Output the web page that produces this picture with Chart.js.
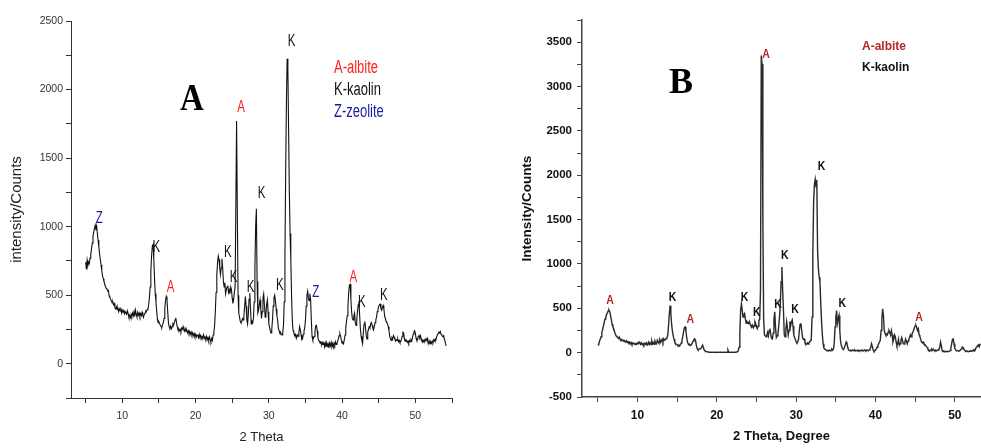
<!DOCTYPE html>
<html>
<head>
<meta charset="utf-8">
<title>XRD patterns A and B</title>
<script src="https://cdn.jsdelivr.net/npm/chart.js@4.4.1/dist/chart.umd.min.js"></script>
<style>
    html, body { margin: 0; padding: 0; background: #fff; }
    #wrap { position: relative; width: 981px; height: 448px; overflow: hidden; }
    canvas { position: absolute; top: 0; }
    #chartA { left: 0; }
    #chartB { left: 510px; }
</style>
</head>
<body>
<div id="wrap">
    <canvas id="chartA" width="470" height="448"></canvas>
    <canvas id="chartB" width="471" height="448"></canvas>
</div>
<script>
// 2-theta grid of the scans (degrees)
const theta = [
    5.0,5.1,5.2,5.3,5.4,5.5,5.6,5.7,5.8,5.9,
    6.0,6.1,6.2,6.3,6.4,6.5,6.6,6.7,6.8,6.9,
    7.0,7.1,7.2,7.3,7.4,7.5,7.6,7.7,7.8,7.9,
    8.0,8.1,8.2,8.3,8.4,8.5,8.6,8.7,8.8,8.9,
    9.0,9.1,9.2,9.3,9.4,9.5,9.6,9.7,9.8,9.9,
    10.0,10.1,10.2,10.3,10.4,10.5,10.6,10.7,10.8,10.9,
    11.0,11.1,11.2,11.3,11.4,11.5,11.6,11.7,11.8,11.9,
    12.0,12.1,12.2,12.3,12.4,12.5,12.6,12.7,12.8,12.9,
    13.0,13.1,13.2,13.3,13.4,13.5,13.6,13.7,13.8,13.9,
    14.0,14.1,14.2,14.3,14.4,14.5,14.6,14.7,14.8,14.9,
    15.0,15.1,15.2,15.3,15.4,15.5,15.6,15.7,15.8,15.9,
    16.0,16.1,16.2,16.3,16.4,16.5,16.6,16.7,16.8,16.9,
    17.0,17.1,17.2,17.3,17.4,17.5,17.6,17.7,17.8,17.9,
    18.0,18.1,18.2,18.3,18.4,18.5,18.6,18.7,18.8,18.9,
    19.0,19.1,19.2,19.3,19.4,19.5,19.6,19.7,19.8,19.9,
    20.0,20.1,20.2,20.3,20.4,20.5,20.6,20.7,20.8,20.9,
    21.0,21.1,21.2,21.3,21.4,21.5,21.6,21.7,21.8,21.9,
    22.0,22.1,22.2,22.3,22.4,22.5,22.6,22.7,22.8,22.9,
    23.0,23.1,23.2,23.3,23.4,23.5,23.6,23.7,23.8,23.9,
    24.0,24.1,24.2,24.3,24.4,24.5,24.6,24.7,24.8,24.9,
    25.0,25.1,25.2,25.3,25.4,25.5,25.6,25.7,25.8,25.9,
    26.0,26.1,26.2,26.3,26.4,26.5,26.6,26.7,26.8,26.9,
    27.0,27.1,27.2,27.3,27.4,27.5,27.6,27.7,27.8,27.9,
    28.0,28.1,28.2,28.3,28.4,28.5,28.6,28.7,28.8,28.9,
    29.0,29.1,29.2,29.3,29.4,29.5,29.6,29.7,29.8,29.9,
    30.0,30.1,30.2,30.3,30.4,30.5,30.6,30.7,30.8,30.9,
    31.0,31.1,31.2,31.3,31.4,31.5,31.6,31.7,31.8,31.9,
    32.0,32.1,32.2,32.3,32.4,32.5,32.6,32.7,32.8,32.9,
    33.0,33.1,33.2,33.3,33.4,33.5,33.6,33.7,33.8,33.9,
    34.0,34.1,34.2,34.3,34.4,34.5,34.6,34.7,34.8,34.9,
    35.0,35.1,35.2,35.3,35.4,35.5,35.6,35.7,35.8,35.9,
    36.0,36.1,36.2,36.3,36.4,36.5,36.6,36.7,36.8,36.9,
    37.0,37.1,37.2,37.3,37.4,37.5,37.6,37.7,37.8,37.9,
    38.0,38.1,38.2,38.3,38.4,38.5,38.6,38.7,38.8,38.9,
    39.0,39.1,39.2,39.3,39.4,39.5,39.6,39.7,39.8,39.9,
    40.0,40.1,40.2,40.3,40.4,40.5,40.6,40.7,40.8,40.9,
    41.0,41.1,41.2,41.3,41.4,41.5,41.6,41.7,41.8,41.9,
    42.0,42.1,42.2,42.3,42.4,42.5,42.6,42.7,42.8,42.9,
    43.0,43.1,43.2,43.3,43.4,43.5,43.6,43.7,43.8,43.9,
    44.0,44.1,44.2,44.3,44.4,44.5,44.6,44.7,44.8,44.9,
    45.0,45.1,45.2,45.3,45.4,45.5,45.6,45.7,45.8,45.9,
    46.0,46.1,46.2,46.3,46.4,46.5,46.6,46.7,46.8,46.9,
    47.0,47.1,47.2,47.3,47.4,47.5,47.6,47.7,47.8,47.9,
    48.0,48.1,48.2,48.3,48.4,48.5,48.6,48.7,48.8,48.9,
    49.0,49.1,49.2,49.3,49.4,49.5,49.6,49.7,49.8,49.9,
    50.0,50.1,50.2,50.3,50.4,50.5,50.6,50.7,50.8,50.9,
    51.0,51.1,51.2,51.3,51.4,51.5,51.6,51.7,51.8,51.9,
    52.0,52.1,52.2,52.3,52.4,52.5,52.6,52.7,52.8,52.9,
    53.0,53.1,53.2,53.3,53.4,53.5,53.6,53.7,53.8,53.9,
    54.0,54.1,54.2
];

// panel A intensities (counts), one row per degree
const countsA = [
    740,690,755,715,740,730,770,800,840,880,
    930,960,990,1010,975,1005,950,900,850,800,
    760,720,680,640,620,600,580,565,550,545,
    530,535,495,485,470,460,445,450,430,440,
    410,400,415,395,405,380,400,385,410,370,
    390,375,395,365,380,370,360,385,365,340,
    350,335,360,345,370,350,380,345,390,360,
    340,375,355,370,345,365,350,375,355,340,
    360,370,385,380,395,400,430,480,560,680,
    790,860,870,760,620,510,450,380,320,300,
    305,290,280,270,265,285,300,330,400,460,
    490,470,380,300,270,260,275,255,270,290,
    280,300,320,335,300,270,250,255,240,250,
    235,260,250,270,250,240,255,235,245,225,
    240,220,235,215,230,210,225,205,220,200,
    215,195,210,205,190,215,195,205,185,200,
    190,210,185,195,180,200,175,190,170,195,
    175,160,185,170,210,230,280,380,520,650,
    740,785,760,700,650,700,765,700,600,560,
    590,510,540,560,570,520,540,510,560,540,
    480,440,470,520,560,560,1770,1100,500,370,
    340,310,300,305,330,320,350,420,490,420,
    320,290,360,470,515,400,290,310,300,330,
    450,700,1000,1130,600,370,390,430,465,400,
    330,380,480,510,430,340,360,430,465,380,
    290,265,240,225,250,320,420,480,500,460,
    400,350,320,260,240,225,230,215,210,230,
    280,450,800,1400,1900,2225,2150,1700,1250,950,
    760,500,320,245,230,205,215,195,190,210,
    200,230,270,245,210,175,180,215,240,260,
    320,420,500,530,480,460,510,470,320,200,
    175,185,200,240,275,280,240,190,170,165,
    150,165,135,155,140,160,125,150,120,155,
    130,145,115,150,130,155,125,145,120,150,
    135,160,140,150,165,185,205,220,200,170,
    150,155,145,175,210,260,310,350,420,520,
    575,580,470,380,330,320,350,370,300,280,
    320,380,430,455,350,250,200,170,145,230,
    290,310,260,200,180,230,250,270,260,290,
    300,280,260,250,270,300,320,340,380,400,
    420,430,435,400,390,410,425,400,350,330,
    310,300,290,270,240,200,180,170,190,180,
    205,195,180,165,175,170,180,160,170,155,
    160,180,200,230,225,180,165,175,170,155,
    165,150,170,160,175,165,190,215,230,240,
    220,185,170,175,200,205,190,205,180,165,
    170,160,175,165,180,170,185,160,150,165,
    145,160,150,165,155,175,165,180,175,195,
    210,220,230,225,235,215,210,200,205,190,
    175,150,130
];

// panel B intensities (counts), one row per degree, scan ends at 53.2
const countsB = [
    100,90,130,150,180,230,260,300,340,380,
    400,430,450,470,480,460,420,370,320,290,
    270,240,210,190,180,170,160,175,150,140,
    150,135,140,125,130,120,135,115,125,110,
    120,100,115,95,110,100,105,90,100,95,
    110,100,120,105,95,110,90,100,85,105,
    95,110,85,100,120,95,110,90,130,100,
    115,95,130,110,100,140,120,105,150,115,
    130,150,120,155,140,145,160,170,190,290,
    430,530,440,320,240,190,150,120,100,95,
    90,80,85,75,90,110,140,180,230,280,
    290,250,170,120,95,85,90,80,90,110,
    130,150,155,145,90,50,35,30,40,45,
    50,65,85,60,30,20,15,12,10,8,
    5,5,4,5,3,5,4,3,5,4,
    3,4,5,3,4,5,3,4,3,5,
    4,3,5,4,30,5,4,3,4,5,
    3,5,4,6,5,8,10,20,60,220,
    480,550,480,400,420,440,380,330,350,340,
    330,350,320,300,290,310,280,300,350,330,
    290,270,300,365,370,700,3350,3250,1500,380,
    200,190,180,200,230,190,250,270,200,160,
    155,220,380,460,280,170,190,210,300,400,
    550,800,965,700,470,200,180,260,350,280,
    200,250,350,300,350,370,300,200,170,150,
    120,110,120,150,250,320,330,250,170,150,
    155,120,100,95,110,98,110,120,136,140,
    400,1100,1700,1900,1955,1870,1950,1150,950,850,
    800,550,350,200,100,50,40,35,25,20,
    25,20,30,20,25,40,30,40,110,290,
    400,475,330,380,420,250,120,80,50,40,
    40,60,90,120,100,60,30,25,20,25,
    20,30,25,20,30,20,25,20,30,20,
    25,20,30,20,25,20,30,25,20,30,
    25,20,30,40,60,100,70,30,15,20,
    30,40,60,80,100,120,136,250,380,494,
    420,250,220,200,210,200,230,250,230,200,
    250,200,120,150,200,180,120,80,100,150,
    83,100,130,170,140,100,98,120,155,130,
    100,130,155,170,200,180,210,230,250,280,
    300,305,280,250,270,200,180,150,120,110,
    120,100,90,83,70,60,40,30,20,30,
    20,40,30,40,25,20,30,20,25,30,
    40,60,120,80,20,15,20,10,15,10,
    10,15,10,15,25,50,100,150,155,100,
    50,30,20,25,20,15,20,30,40,60,
    60,50,30,20,15,20,15,10,15,20,
    20,15,25,20,30,20,40,60,70,83,
    90,70,100
];

// peak assignments: label centre in (2theta, counts)
const peakThetaA = [6.85, 14.65, 16.6, 24.4, 25.2, 26.2, 27.5, 29.0, 31.5, 33.1, 36.4, 41.55, 42.7, 45.7];
const peakCountsA = [1060, 848, 556, 811, 629, 1870, 558, 1240, 570, 2349, 521, 631, 448, 497];
const peakTextA = ['Z', 'K', 'A', 'K', 'K', 'A', 'K', 'K', 'K', 'K', 'Z', 'A', 'K', 'K'];

const peakThetaB = [6.55, 14.4, 16.65, 23.5, 25.05, 26.2, 27.7, 28.55, 29.85, 33.2, 35.8, 45.5];
const peakCountsB = [588, 626, 381, 619, 456, 3359, 551, 1097, 494, 2096, 562, 399];
const peakTextB = ['A', 'K', 'A', 'K', 'K', 'A', 'K', 'K', 'K', 'K', 'K', 'A'];

const legendA = ['A-albite', 'K-kaolin', 'Z-zeolite'];
const legendB = ['A-albite', 'K-kaolin'];

// axis ticks and the ones that carry a label
const xTicksA = [5, 10, 15, 20, 25, 30, 35, 40, 45, 50, 55];
const xTicksB = [5, 10, 15, 20, 25, 30, 35, 40, 45, 50];
const xLabels = [10, 20, 30, 40, 50];
const yTicksA = [-250, 0, 250, 500, 750, 1000, 1250, 1500, 1750, 2000, 2250, 2500];
const yLabelsA = [0, 500, 1000, 1500, 2000, 2500];
const yTicksB = [-500, -250, 0, 250, 500, 750, 1000, 1250, 1500, 1750, 2000, 2250, 2500, 2750, 3000, 3250, 3500, 3750];
const yLabelsB = [-500, 0, 500, 1000, 1500, 2000, 2500, 3000, 3500];

const SANS = "'Liberation Sans', Arial, sans-serif";
const SERIF = "'Liberation Serif', 'Times New Roman', serif";

function stretchText(ctx, text, x, y, sy) {
    ctx.save();
    ctx.translate(x, y);
    ctx.scale(1, sy);
    ctx.fillText(text, 0, 0);
    ctx.restore();
}

// peak letters, legend text and panel letter
const annotate = {
    id: 'annotate',
    afterDatasetsDraw(chart, args, o) {
        const { ctx } = chart;
        const xs = chart.scales.x;
        const ys = chart.scales.y;
        ctx.save();
        ctx.textBaseline = 'middle';

        ctx.textAlign = 'center';
        ctx.font = o.peakFont;
        o.peakText.forEach((t, i) => {
            ctx.fillStyle = o.colors[t];
            stretchText(ctx, t, xs.getPixelForValue(o.peakTheta[i]), ys.getPixelForValue(o.peakCounts[i]), o.peakStretch);
        });

        ctx.textAlign = 'left';
        ctx.font = o.legendFont;
        o.legendText.forEach((t, i) => {
            ctx.fillStyle = o.colors[t[0]];
            stretchText(ctx, t, o.legendX, o.legendY + i * o.legendGap, o.legendStretch);
        });

        ctx.textAlign = 'center';
        ctx.font = o.panelFont;
        ctx.fillStyle = '#000';
        stretchText(ctx, o.panel, o.panelX, o.panelY, o.panelStretch);
        ctx.restore();
    }
};

function toPoints(counts) {
    return counts.map((c, i) => ({ x: theta[i], y: c }));
}

new Chart(document.getElementById('chartA'), {
    type: 'line',
    data: {
        datasets: [{
            data: toPoints(countsA),
            borderColor: '#111',
            borderWidth: 1.1,
            pointRadius: 0,
            tension: 0
        }]
    },
    options: {
        responsive: false,
        animation: false,
        devicePixelRatio: 1,
        events: [],
        layout: { padding: { left: 0, right: 18, top: 21, bottom: 0 } },
        plugins: {
            legend: { display: false },
            tooltip: { enabled: false },
            annotate: {
                peakTheta: peakThetaA,
                peakCounts: peakCountsA,
                peakText: peakTextA,
                peakFont: '11.5px ' + SANS,
                peakStretch: 1.45,
                colors: { A: '#ff2020', K: '#111111', Z: '#1c1c9a' },
                legendText: legendA,
                legendFont: '13px ' + SANS,
                legendStretch: 1.35,
                legendX: 334,
                legendY: 68,
                legendGap: 22,
                panel: 'A',
                panelFont: 'bold 33px ' + SERIF,
                panelStretch: 1.15,
                panelX: 192,
                panelY: 100
            }
        },
        scales: {
            x: {
                type: 'linear',
                min: 3,
                max: 55,
                afterBuildTicks: s => { s.ticks = xTicksA.map(v => ({ value: v })); },
                afterFit: s => { s.height = 50; },
                grid: { drawOnChartArea: false, tickLength: 5, color: '#333' },
                border: { color: '#333', width: 1 },
                ticks: {
                    autoSkip: false,
                    maxRotation: 0,
                    padding: 7,
                    color: '#333',
                    font: { family: SANS, size: 10.5 },
                    callback: v => xLabels.includes(v) ? String(v) : ''
                },
                title: {
                    display: true,
                    text: '2 Theta',
                    color: '#222',
                    font: { family: SANS, size: 13 },
                    padding: { top: 0, bottom: 3 }
                }
            },
            y: {
                min: -250,
                max: 2500,
                afterBuildTicks: s => { s.ticks = yTicksA.map(v => ({ value: v })); },
                afterFit: s => { s.width = 71; },
                grid: { drawOnChartArea: false, tickLength: 5, color: '#333' },
                border: { color: '#333', width: 1 },
                ticks: {
                    autoSkip: false,
                    padding: 3,
                    color: '#333',
                    font: { family: SANS, size: 10.5 },
                    callback: v => yLabelsA.includes(v) ? String(v) : ''
                },
                title: {
                    display: true,
                    text: 'intensity/Counts',
                    color: '#222',
                    font: { family: SANS, size: 15 },
                    padding: { top: 8, bottom: 0 }
                }
            }
        }
    },
    plugins: [annotate]
});

new Chart(document.getElementById('chartB'), {
    type: 'line',
    data: {
        datasets: [{
            data: toPoints(countsB),
            borderColor: '#2a2a2a',
            borderWidth: 1.4,
            pointRadius: 0,
            tension: 0
        }]
    },
    options: {
        responsive: false,
        animation: false,
        devicePixelRatio: 1,
        events: [],
        layout: { padding: { left: 0, right: 0, top: 20, bottom: 0 } },
        plugins: {
            legend: { display: false },
            tooltip: { enabled: false },
            annotate: {
                peakTheta: peakThetaB,
                peakCounts: peakCountsB,
                peakText: peakTextB,
                peakFont: 'bold 10.5px ' + SANS,
                peakStretch: 1.3,
                colors: { A: '#b3262b', K: '#111111' },
                legendText: legendB,
                legendFont: 'bold 12px ' + SANS,
                legendStretch: 1.0,
                legendX: 352,
                legendY: 47,
                legendGap: 21,
                panel: 'B',
                panelFont: 'bold 36px ' + SERIF,
                panelStretch: 1.0,
                panelX: 171,
                panelY: 84
            }
        },
        scales: {
            x: {
                type: 'linear',
                min: 3,
                max: 53.3,
                afterBuildTicks: s => { s.ticks = xTicksB.map(v => ({ value: v })); },
                afterFit: s => { s.height = 51; },
                grid: { drawOnChartArea: false, tickLength: 5, color: '#444' },
                border: { color: '#444', width: 1.5 },
                ticks: {
                    autoSkip: false,
                    maxRotation: 0,
                    padding: 6,
                    color: '#111',
                    font: { family: SANS, size: 12, weight: 'bold' },
                    callback: v => xLabels.includes(v) ? String(v) : ''
                },
                title: {
                    display: true,
                    text: '2 Theta, Degree',
                    color: '#111',
                    font: { family: SANS, size: 13, weight: 'bold' },
                    padding: { top: 0, bottom: 4 }
                }
            },
            y: {
                min: -500,
                max: 3750,
                afterBuildTicks: s => { s.ticks = yTicksB.map(v => ({ value: v })); },
                afterFit: s => { s.width = 72; },
                grid: { drawOnChartArea: false, tickLength: 5, color: '#444' },
                border: { color: '#444', width: 1.5 },
                ticks: {
                    autoSkip: false,
                    padding: 5,
                    color: '#111',
                    font: { family: SANS, size: 11.5, weight: 'bold' },
                    callback: v => yLabelsB.includes(v) ? String(v) : ''
                },
                title: {
                    display: true,
                    text: 'Intensity/Counts',
                    color: '#111',
                    font: { family: SANS, size: 13.5, weight: 'bold' },
                    padding: { top: 9, bottom: 0 }
                }
            }
        }
    },
    plugins: [annotate]
});
</script>
</body>
</html>
